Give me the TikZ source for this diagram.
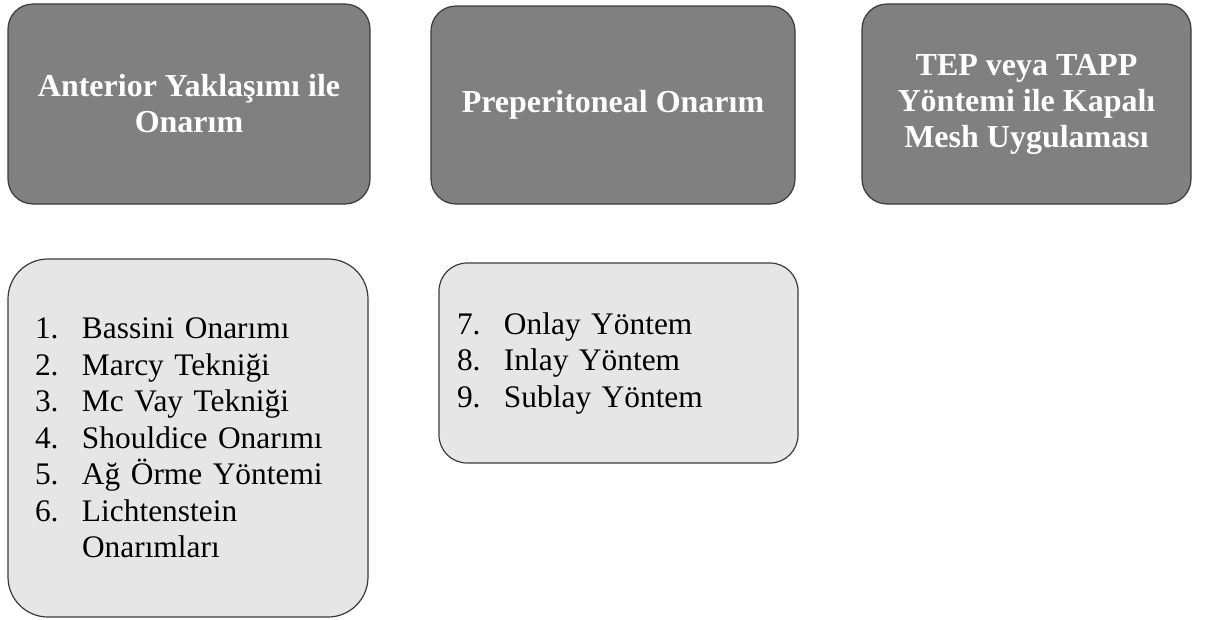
\documentclass[tikz,border=0pt]{standalone}
\usepackage{fontspec}
\setmainfont{Liberation Serif}
\definecolor{darkbox}{HTML}{808080}
\definecolor{lightbox}{HTML}{E6E6E6}
\definecolor{edge}{HTML}{3A3A3A}
\newcommand{\itm}[1]{\makebox[47pt][l]{#1}}
\begin{document}
\begin{tikzpicture}[x=1pt,y=-1pt,
  titlebox/.style={draw=edge,line width=1.2pt,fill=darkbox,rounded corners=25pt,
    inner sep=0pt,align=center,text=white,
    font=\bfseries\fontsize{32}{36}\selectfont},
  listbox/.style={draw=edge,line width=1.2pt,fill=lightbox,
    inner ysep=0pt,align=left,text=black,
    font=\fontsize{31.4}{36.5}\selectfont}]
\useasboundingbox (0,0) rectangle (1208,619);
\node[titlebox,minimum width=362pt,minimum height=200pt] (anterior) at (189,104)
  {Anterior Yaklaşımı ile\\Onarım};
\node[titlebox,minimum width=364pt,minimum height=198pt] (prep) at (613,105)
  {Preperitoneal Onarım};
\node[titlebox,minimum width=329pt,minimum height=200pt] (tep) at (1026.5,104)
  {TEP veya TAPP\\Yöntemi ile Kapalı\\Mesh Uygulaması};
\node[listbox,rounded corners=40pt,minimum width=360pt,minimum height=358pt,
  inner xsep=27pt,text width=306pt] (list1) at (188,438)
  {\itm{1.}Bassini Onarımı\\
   \itm{2.}Marcy Tekniği\\
   \itm{3.}Mc Vay Tekniği\\
   \itm{4.}Shouldice Onarımı\\
   \itm{5.}Ağ Örme Yöntemi\\
   \itm{6.}Lichtenstein\\
   \itm{}Onarımları};
\node[listbox,rounded corners=28pt,minimum width=359pt,minimum height=200pt,
  inner xsep=18pt,text width=323pt] (list2) at (618.5,363)
  {\itm{7.}Onlay Yöntem\\
   \itm{8.}Inlay Yöntem\\
   \itm{9.}Sublay Yöntem};
\end{tikzpicture}
\end{document}
